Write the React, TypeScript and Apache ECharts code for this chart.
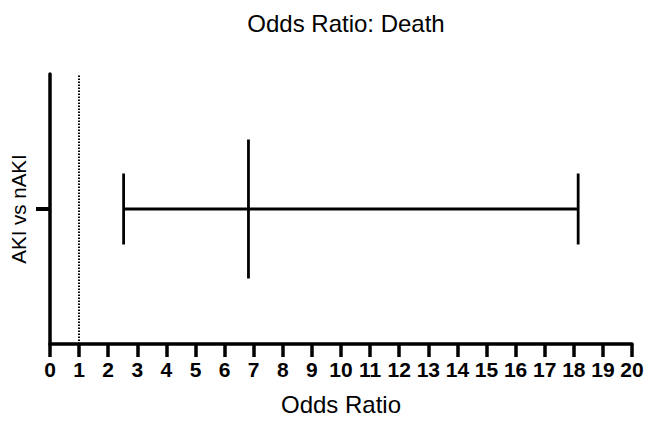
import React, { useEffect, useRef } from "react";
import * as echarts from "echarts";

const categories = ["AKI vs nAKI"];
const lowerCI = [2.53];
const oddsRatio = [6.82];
const upperCI = [18.15];
const xTicks = { min: 0, max: 20, interval: 1 };
const referenceLine = 1;

export default function App() {
  const ref = useRef<HTMLDivElement>(null);
  useEffect(() => {
    const chart = echarts.init(ref.current!, null, { renderer: "svg" });
    const font = "'Liberation Sans', Arial, Helvetica, sans-serif";
    chart.setOption({
      animation: false,
      title: {
        text: "Odds Ratio: Death",
        left: 341,
        top: 6,
        textAlign: "center",
        textStyle: { fontFamily: font, fontSize: 24, fontWeight: "normal", color: "#000" },
      },
      grid: { left: 48, right: 24, top: 74, bottom: 70.5, containLabel: false },
      xAxis: {
        type: "value",
        min: xTicks.min,
        max: xTicks.max,
        interval: xTicks.interval,
        name: "Odds Ratio",
        nameLocation: "middle",
        nameGap: 48,
        nameTextStyle: { fontFamily: font, fontSize: 24, color: "#000" },
        axisLine: { show: true, lineStyle: { color: "#000", width: 3.5 } },
        axisTick: { show: true, length: 13, lineStyle: { color: "#000", width: 3.5 } },
        axisLabel: { fontFamily: font, fontSize: 21, fontWeight: "bold", color: "#000", margin: 15 },
        splitLine: { show: false },
      },
      yAxis: {
        type: "category",
        data: categories,
        name: "AKI vs nAKI",
        nameLocation: "middle",
        nameGap: 21,
        nameTextStyle: { fontFamily: font, fontSize: 20.5, color: "#000" },
        axisLine: { show: true, lineStyle: { color: "#000", width: 3.5 } },
        axisTick: { show: true, alignWithLabel: true, length: 14, lineStyle: { color: "#000", width: 4 } },
        axisLabel: { show: false },
        splitLine: { show: false },
      },
      series: [
        {
          type: "custom",
          data: categories.map((c, i) => [i, lowerCI[i], oddsRatio[i], upperCI[i]]),
          encode: { y: 0, x: [1, 2, 3] },
          renderItem: (params: any, api: any) => {
            const cat = api.value(0);
            const lo = api.coord([api.value(1), cat]);
            const mid = api.coord([api.value(2), cat]);
            const hi = api.coord([api.value(3), cat]);
            const style = { stroke: "#000", lineWidth: 2.8 };
            const capHalf = 35.5;
            const midHalf = 69.5;
            return {
              type: "group",
              children: [
                { type: "line", shape: { x1: lo[0], y1: lo[1], x2: hi[0], y2: hi[1] }, style },
                { type: "line", shape: { x1: lo[0], y1: lo[1] - capHalf, x2: lo[0], y2: lo[1] + capHalf }, style },
                { type: "line", shape: { x1: hi[0], y1: hi[1] - capHalf, x2: hi[0], y2: hi[1] + capHalf }, style },
                { type: "line", shape: { x1: mid[0], y1: mid[1] - midHalf, x2: mid[0], y2: mid[1] + midHalf }, style },
              ],
            };
          },
          markLine: {
            silent: true,
            symbol: "none",
            label: { show: false },
            lineStyle: { color: "#000", type: [1.5, 1.5], width: 2 },
            data: [{ xAxis: referenceLine }],
          },
        },
      ],
    });
    return () => chart.dispose();
  }, []);
  return (
    <div
      ref={ref}
      style={{ position: "fixed", left: 0, top: 0, width: 656, height: 421, background: "#fff" }}
    />
  );
}
